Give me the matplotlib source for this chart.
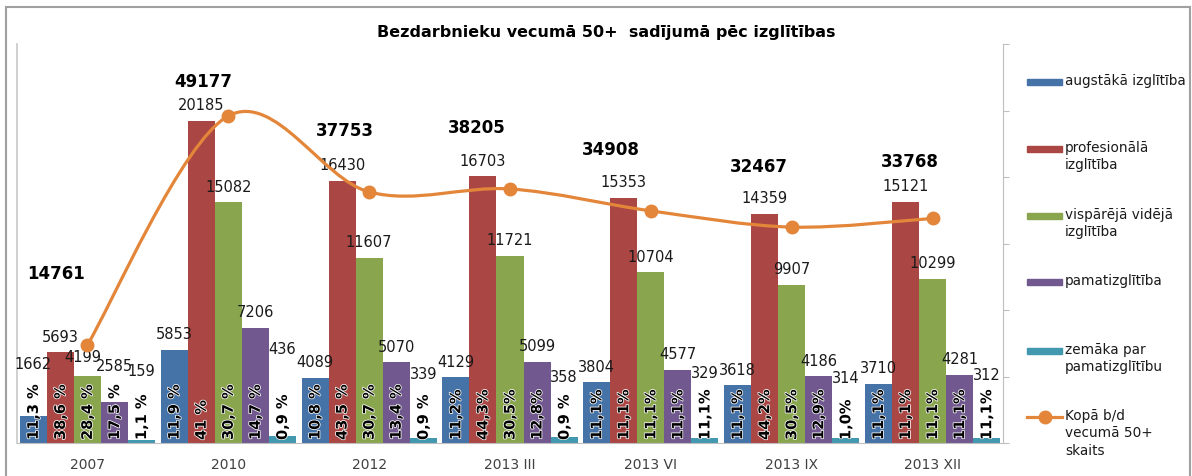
import matplotlib
matplotlib.use("Agg")
import matplotlib.pyplot as plt
import matplotlib.patheffects as pe
from matplotlib.path import Path
from matplotlib.patches import PathPatch, Rectangle
from matplotlib.lines import Line2D
import numpy as np

W, H = 1192, 477

# data
periods = ["2007", "2010", "2012", "2013 III", "2013 VI", "2013 IX", "2013 XII"]
names = ["augstākā izglītība", "profesionālā\nizglītība", "vispārējā vidējā\nizglītība",
         "pamatizglītība", "zemāka par\npamatizglītību"]
augstaka = [1662, 5853, 4089, 4129, 3804, 3618, 3710]
profesionala = [5693, 20185, 16430, 16703, 15353, 14359, 15121]
visparejo = [4199, 15082, 11607, 11721, 10704, 9907, 10299]
pamata = [2585, 7206, 5070, 5099, 4577, 4186, 4281]
zemaka = [159, 436, 339, 358, 329, 314, 312]
kopa = [14761, 49177, 37753, 38205, 34908, 32467, 33768]
line_name = "Kopā b/d\nvecumā 50+\nskaits"

pct_augstaka = ["11,3 %", "11,9 %", "10,8 %", "11,2%", "11,1%", "11,1%", "11,1%"]
pct_profesionala = ["38,6 %", "41 %", "43,5 %", "44,3%", "11,1%", "44,2%", "11,1%"]
pct_visparejo = ["28,4 %", "30,7 %", "30,7 %", "30,5%", "11,1%", "30,5%", "11,1%"]
pct_pamata = ["17,5 %", "14,7 %", "13,4 %", "12,8%", "11,1%", "12,9%", "11,1%"]
pct_zemaka = ["1,1 %", "0,9 %", "0,9 %", "0,9 %", "11,1%", "1,0%", "11,1%"]

# styling
colors = ["#4572A7", "#AA4643", "#89A54E", "#71588F", "#4198AF"]
line_color = "#E3863A"
label_shift = {(0, 0): (0, 53), (2, 0): (-5, 19), (3, 0): (0, 36),
               (4, 0): (0, 70), (4, 1): (0, 88), (4, 2): (0, 64), (4, 3): (0, 61),
               (4, 4): (0, 65), (4, 5): (0, 60), (4, 6): (0, 64)}
total_shift = [(-31, 72), (-25, 35), (-24, 62), (-33, 62), (-40, 62), (-33, 61), (-23, 57)]


def fx(x):
    return x / W


def fy(y):
    return 1 - y / H


# smooth line like excel (catmull-rom as bezier)
def smooth_path(xs, ys):
    pts = np.column_stack([xs, ys]).astype(float)
    n = len(pts)
    verts = [pts[0]]
    codes = [Path.MOVETO]
    for i in range(n - 1):
        p0 = pts[max(i - 1, 0)]
        p1 = pts[i]
        p2 = pts[i + 1]
        p3 = pts[min(i + 2, n - 1)]
        verts += [p1 + (p2 - p0) / 6, p2 - (p3 - p1) / 6, p2]
        codes += [Path.CURVE4] * 3
    return Path(verts, codes)


def draw():
    fig = plt.figure(figsize=(W / 100, H / 100), dpi=100)
    fig.add_artist(Rectangle((fx(6), -0.02), fx(1190) - fx(6), fy(8) + 0.02,
                             transform=fig.transFigure, fill=False,
                             edgecolor="#A0A0A0", lw=1.5))

    ax = fig.add_axes([fx(17), 33 / H, fx(1003) - fx(17), (444 - 45) / H])
    ax2 = ax.twinx()

    series = [augstaka, profesionala, visparejo, pamata, zemaka]
    pcts = [pct_augstaka, pct_profesionala, pct_visparejo, pct_pamata, pct_zemaka]
    x = np.arange(len(periods))
    bw = 0.192
    for k, vals in enumerate(series):
        xs = x + (k - 2) * bw
        ax.bar(xs, vals, bw, color=colors[k], zorder=2)
        for i, v in enumerate(vals):
            dx, dy = label_shift.get((k, i), (0, 16))
            ax.annotate(str(v), (xs[i], v), xytext=(dx, dy), textcoords="offset pixels",
                        ha="center", va="center", fontsize=10.5, color="#1a1a1a", zorder=4)
            ax.annotate(pcts[k][i], (xs[i], 0), xytext=(0, 3), textcoords="offset pixels",
                        ha="center", va="bottom", rotation=90, fontsize=10.5,
                        fontweight="bold", color="black", zorder=5,
                        path_effects=[pe.withStroke(linewidth=1.1, foreground="white")])

    ax.set_xlim(-0.5, len(periods) - 0.5)
    ax.set_ylim(0, 25000)
    ax.set_xticks(x)
    ax.set_xticklabels(periods, fontsize=10, color="#404040")
    ax.tick_params(axis="x", length=0, pad=10)
    ax.set_yticks([])
    for s in ["top", "right"]:
        ax.spines[s].set_visible(False)
    ax.spines["left"].set_color("#C8C8C8")
    ax.spines["bottom"].set_color("#BFBFBF")
    ax.spines["left"].set_linewidth(1.2)

    # total line on secondary axis
    ax2.set_ylim(0, 60000)
    ax2.set_yticks(range(0, 60001, 10000))
    ax2.tick_params(axis="y", length=4, color="#BFBFBF", labelright=False)
    for s in ["top", "left", "bottom"]:
        ax2.spines[s].set_visible(False)
    ax2.spines["right"].set_color("#BFBFBF")
    ax2.add_patch(PathPatch(smooth_path(x, kopa), fill=False, edgecolor=line_color,
                            lw=2.3, zorder=3))
    ax2.plot(x, kopa, "o", color=line_color, markersize=9, zorder=4)
    for i, v in enumerate(kopa):
        dx, dy = total_shift[i]
        ax2.annotate(str(v), (x[i], v), xytext=(dx, dy), textcoords="offset pixels",
                     ha="center", va="center", fontsize=12, fontweight="bold", color="black")

    fig.text(fx(606), fy(32), "Bezdarbnieku vecumā 50+  sadījumā pēc izglītības",
             ha="center", va="center", fontsize=11.5, fontweight="bold", color="black")

    # legend on the right
    leg_y = [83, 150, 217, 283, 352]
    for k, name in enumerate(names):
        y = leg_y[k]
        fig.add_artist(Rectangle((fx(1027), fy(y + 3)), fx(1062) - fx(1027), 6 / H,
                                 transform=fig.transFigure, color=colors[k]))
        fig.text(fx(1065), fy(y - 9), name, ha="left", va="top", fontsize=9.8,
                 color="#1a1a1a", linespacing=1.3)
    fig.add_artist(Line2D([fx(1027), fx(1062)], [fy(418), fy(418)], color=line_color,
                          lw=2.3, transform=fig.transFigure))
    fig.add_artist(Line2D([fx(1044.5)], [fy(418)], color=line_color, marker="o",
                          markersize=9, transform=fig.transFigure))
    fig.text(fx(1065), fy(409), line_name, ha="left", va="top", fontsize=9.8,
             color="#1a1a1a", linespacing=1.3)

    fig.savefig("out.png", dpi=100)


def main():
    draw()


main()
